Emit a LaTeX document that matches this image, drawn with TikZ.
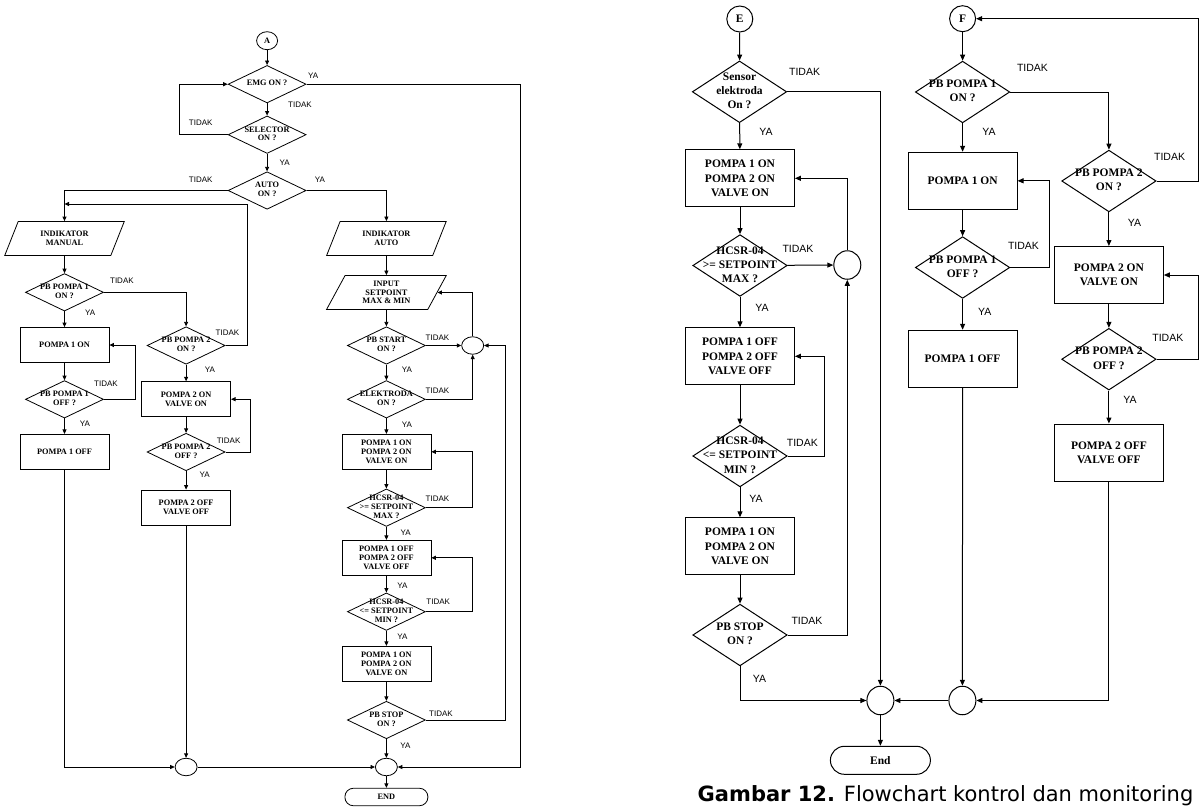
\documentclass[tikz,border=0pt]{standalone}
\usepackage{fontspec}
\setmainfont{Liberation Serif}
\newfontfamily\arialfont{Liberation Sans}
\newfontfamily\capfont{DejaVu Sans}
\usetikzlibrary{shapes.geometric, arrows.meta}
\newcommand{\lchfont}{\fontsize{8.3}{8.8}\selectfont\bfseries}
\newcommand{\rchfont}{\fontsize{11.5}{14.2}\selectfont\bfseries}
\newcommand{\dmtxt}[1]{\makebox[0pt]{\begin{tabular}{@{}c@{}}#1\end{tabular}}}

\begin{document}
\begin{tikzpicture}[x=1pt, y=-1pt,
    lbox/.style={rectangle, draw, line width=0.8pt, minimum width=89pt, minimum height=35pt, align=center, font=\lchfont, inner sep=1pt},
    ldia/.style={diamond, draw, line width=0.8pt, minimum width=78pt, minimum height=37.5pt, inner sep=0pt, font=\lchfont},
    lio/.style={trapezium, trapezium left angle=66, trapezium right angle=114, trapezium stretches=true, draw, line width=0.8pt, minimum width=120pt, minimum height=34pt, align=center, font=\lchfont, inner sep=1pt},
    lcon/.style={ellipse, draw, line width=0.8pt, minimum width=22pt, minimum height=17.5pt, inner sep=0pt, font=\lchfont},
    lend/.style={rectangle, rounded corners=8.5pt, draw, line width=0.8pt, minimum width=83pt, minimum height=17.5pt, inner sep=0pt, font=\lchfont},
    llab/.style={font=\arialfont\fontsize{8}{9}\selectfont, inner sep=0pt},
    larrow/.style={line width=0.8pt, -{Triangle[length=4.5pt, width=4pt]}},
    rbox/.style={rectangle, draw, line width=1pt, minimum width=108.8pt, minimum height=57pt, align=center, font=\rchfont, inner sep=1pt},
    rdia/.style={diamond, draw, line width=1pt, minimum width=94.4pt, minimum height=61.7pt, inner sep=0pt, font=\rchfont},
    rcon/.style={ellipse, draw, line width=1pt, minimum width=27pt, minimum height=28.5pt, inner sep=0pt, font=\rchfont},
    rend/.style={rectangle, rounded corners=14pt, draw, line width=1pt, minimum width=100pt, minimum height=28pt, inner sep=0pt, font=\rchfont},
    rlab/.style={font=\arialfont\fontsize{10.5}{12}\selectfont, inner sep=0pt},
    rarrow/.style={line width=1pt, -{Triangle[length=6pt, width=5pt]}}
]
\useasboundingbox (0,0) rectangle (1203,809);

% left chart
\node[lcon, minimum width=21pt, minimum height=18pt] (A) at (267.1,40.7) {A};
\node[ldia] (emg) at (267.1,84.2) {\dmtxt{EMG ON ?}};
\node[ldia] (sel) at (267.1,134.7) {\dmtxt{SELECTOR\\ON ?}};
\node[ldia] (auto) at (267.1,190.5) {\dmtxt{AUTO\\ON ?}};

\node[lio] (indm) at (64.5,238.5) {INDIKATOR\\MANUAL};
\node[ldia] (pb1on) at (64.5,292.3) {\dmtxt{PB POMPA 1\\ON ?}};
\node[lbox] (p1on) at (64.5,345) {POMPA 1 ON};
\node[ldia] (pb1off) at (64.5,399.3) {\dmtxt{PB POMPA 1\\OFF ?}};
\node[lbox] (p1off) at (64.5,451.8) {POMPA 1 OFF};

\node[ldia] (pb2on) at (186.1,345.5) {\dmtxt{PB POMPA 2\\ON ?}};
\node[lbox] (p2on) at (186.1,399.2) {POMPA 2 ON\\VALVE ON};
\node[ldia] (pb2off) at (186.1,452) {\dmtxt{PB POMPA 2\\OFF ?}};
\node[lbox] (p2off) at (186.1,507.5) {POMPA 2 OFF\\VALVE OFF};

\node[lio] (inda) at (386.4,238.5) {INDIKATOR\\AUTO};
\node[lio] (inp) at (386.4,292.5) {INPUT\\SETPOINT\\MAX \& MIN};
\node[ldia] (pbst) at (386.4,345.5) {\dmtxt{PB START\\ON ?}};
\node[ldia] (elek) at (386.4,399.3) {\dmtxt{ELEKTRODA\\ON ?}};
\node[lbox] (a1) at (386.4,451.8) {POMPA 1 ON\\POMPA 2 ON\\VALVE ON};
\node[ldia] (hmax) at (386.4,507.7) {\dmtxt{HCSR-04\\>= SETPOINT\\MAX ?}};
\node[lbox] (a2) at (386.4,557.8) {POMPA 1 OFF\\POMPA 2 OFF\\VALVE OFF};
\node[ldia] (hmin) at (386.4,611.7) {\dmtxt{HCSR-04\\<= SETPOINT\\MIN ?}};
\node[lbox] (a3) at (386.4,663.8) {POMPA 1 ON\\POMPA 2 ON\\VALVE ON};
\node[ldia] (pbsp) at (386.4,720) {\dmtxt{PB STOP\\ON ?}};
\node[lcon] (lc) at (472.7,345.5) {};
\node[lcon] (bl) at (186.1,767) {};
\node[lcon] (br) at (386.4,767) {};
\node[lend] (endL) at (386.4,797) {END};
\coordinate (rbus) at (520.7,767);
\coordinate (mj) at (64.5,204);

\draw[larrow] (A) -- (emg);
\draw[larrow] (emg.east) -| (rbus) -- (br.east);
\draw[larrow] (emg) -- (sel);
\draw[larrow] (sel.west) -- ++(-48.5,0) |- (emg.west);
\draw[larrow] (sel) -- (auto);
\draw[larrow] (auto.west) -| (indm.north);
\draw[larrow] (auto.east) -| (inda.north);
\draw[larrow] (indm) -- (pb1on);
\draw[larrow] (pb1on) -- (p1on);
\draw[larrow] (pb1on.east) -| (pb2on.north);
\draw[larrow] (p1on) -- (pb1off);
\draw[larrow] (pb1off.east) -- ++(31.1,0) |- (p1on.east);
\draw[larrow] (pb1off) -- (p1off);
\draw[larrow] (p1off.south) |- (bl.west);
\draw[larrow] (pb2on.east) -- ++(22,0) |- (mj);
\draw[larrow] (pb2on) -- (p2on);
\draw[larrow] (p2on) -- (pb2off);
\draw[larrow] (pb2off.east) -- ++(24.9,0) |- (p2on.east);
\draw[larrow] (pb2off) -- (p2off);
\draw[larrow] (p2off) -- (bl);
\draw[larrow] (bl) -- (br);
\draw[larrow] (br) -- (endL);
\draw[larrow] (inda) -- (inp);
\draw[larrow] (inp) -- (pbst);
\draw[larrow] (pbst) -- (lc);
\draw[larrow] (lc.north) |- (inp.east);
\draw[larrow] (pbst) -- (elek);
\draw[larrow] (elek.east) -| (lc.south);
\draw[larrow] (elek) -- (a1);
\draw[larrow] (a1) -- (hmax);
\draw[larrow] (hmax.east) -- (hmax.east -| lc) |- (a1.east);
\draw[larrow] (hmax) -- (a2);
\draw[larrow] (a2) -- (hmin);
\draw[larrow] (hmin.east) -- (hmin.east -| lc) |- (a2.east);
\draw[larrow] (hmin) -- (a3);
\draw[larrow] (a3) -- (pbsp);
\draw[larrow] (pbsp.east) -- ++(79.2,0) |- (lc.east);
\draw[larrow] (pbsp) -- (br);

\node[llab] (yEmg) at (313.2,75.3) {YA};
\node[llab] (tEmg) at (300,105) {TIDAK};
\node[llab] (tSel) at (200.7,123) {TIDAK};
\node[llab] (ySel) at (284.6,162.3) {YA};
\node[llab] (tAuto) at (200.7,179.3) {TIDAK};
\node[llab] (yAuto) at (320,179.3) {YA};
\node[llab] (tPb1on) at (121.9,280.3) {TIDAK};
\node[llab] (yPb1on) at (90.2,313.2) {YA};
\node[llab] (tPb1off) at (106,384) {TIDAK};
\node[llab] (yPb1off) at (85,423.3) {YA};
\node[llab] (tPb2on) at (227.5,332.3) {TIDAK};
\node[llab] (yPb2on) at (210,369.3) {YA};
\node[llab] (tPb2off) at (228.6,440.3) {TIDAK};
\node[llab] (yPb2off) at (204.6,475) {YA};
\node[llab] (tPbst) at (437.5,337.3) {TIDAK};
\node[llab] (yPbst) at (407,370) {YA};
\node[llab] (tElek) at (437.5,391) {TIDAK};
\node[llab] (yElek) at (407,424.3) {YA};
\node[llab] (tHmax) at (437.5,498.7) {TIDAK};
\node[llab] (yHmax) at (405.7,532.3) {YA};
\node[llab] (yA2) at (402.5,586) {YA};
\node[llab] (tHmin) at (438.2,602) {TIDAK};
\node[llab] (yHmin) at (402.5,636.7) {YA};
\node[llab] (tPbsp) at (441,713.3) {TIDAK};
\node[llab] (yPbsp) at (405.4,745.3) {YA};

% right charts
\node[rcon, minimum width=26pt, minimum height=26pt] (E) at (739.8,19) {E};
\node[rdia] (sens) at (739.5,91.8) {\dmtxt{Sensor\\elektroda\\On ?}};
\node[rbox] (e1) at (740,178.3) {POMPA 1 ON\\POMPA 2 ON\\VALVE ON};
\node[rdia] (hmx) at (740,265.5) {\dmtxt{HCSR-04\\>= SETPOINT\\MAX ?}};
\node[rcon] (mc) at (847.3,265) {};
\node[rbox] (e2) at (740,356.3) {POMPA 1 OFF\\POMPA 2 OFF\\VALVE OFF};
\node[rdia] (hmn) at (740,456) {\dmtxt{HCSR-04\\<= SETPOINT\\MIN ?}};
\node[rbox] (e3) at (740,546.3) {POMPA 1 ON\\POMPA 2 ON\\VALVE ON};
\node[rdia] (pbs) at (740,635) {\dmtxt{PB STOP\\ON ?}};
\node[rcon] (cl) at (880.4,700.5) {};
\node[rcon] (cr) at (962.4,700.5) {};
\node[rend] (endR) at (880.4,760.3) {End};

\node[rcon, minimum width=26pt, minimum height=26pt] (F) at (962.6,18.7) {F};
\node[rdia] (f1) at (962.6,92) {\dmtxt{PB POMPA 1\\ON ?}};
\node[rbox] (f2) at (962.6,180.8) {POMPA 1 ON};
\node[rdia] (f3) at (962.6,267.5) {\dmtxt{PB POMPA 1\\OFF ?}};
\node[rbox] (f4) at (962.6,358.8) {POMPA 1 OFF};

\node[rdia] (g1) at (1108.9,181) {\dmtxt{PB POMPA 2\\ON ?}};
\node[rbox] (g2) at (1108.9,275) {POMPA 2 ON\\VALVE ON};
\node[rdia] (g3) at (1108.9,359.2) {\dmtxt{PB POMPA 2\\OFF ?}};
\node[rbox] (g4) at (1108.9,452.5) {POMPA 2 OFF\\VALVE OFF};

\draw[rarrow] (E) -- (sens);
\draw[rarrow] (sens.east) -| (cl.north);
\draw[rarrow] (sens) -- (e1);
\draw[rarrow] (e1) -- (hmx);
\draw[rarrow] (hmx) -- (mc);
\draw[rarrow] (mc.north) |- (e1.east);
\draw[rarrow] (hmx) -- (e2);
\draw[rarrow] (e2) -- (hmn);
\draw[rarrow] (hmn.east) -- ++(37,0) |- (e2.east);
\draw[rarrow] (hmn) -- (e3);
\draw[rarrow] (e3) -- (pbs);
\draw[rarrow] (pbs.east) -| (mc.south);
\draw[rarrow] (pbs.south) |- (cl.west);
\draw[rarrow] (cr) -- (cl);
\draw[rarrow] (cl) -- (endR);
\draw[rarrow] (F) -- (f1);
\draw[rarrow] (f1.east) -| (g1.north);
\draw[rarrow] (f1) -- (f2);
\draw[rarrow] (f2) -- (f3);
\draw[rarrow] (f3.east) -- ++(39.5,0) |- (f2.east);
\draw[rarrow] (f3) -- (f4);
\draw[rarrow] (f4) -- (cr);
\draw[rarrow] (g1.east) -- ++(42.2,0) |- (F.east);
\draw[rarrow] (g1) -- (g2);
\draw[rarrow] (g2) -- (g3);
\draw[rarrow] (g3.east) -- ++(42.2,0) |- (g2.east);
\draw[rarrow] (g3) -- (g4);
\draw[rarrow] (g4.south) |- (cr.east);

\node[rlab] (tSens) at (804.6,71.7) {TIDAK};
\node[rlab] (ySens) at (766,132) {YA};
\node[rlab] (tHmx) at (798,249.3) {TIDAK};
\node[rlab] (yHmx) at (762.1,308.3) {YA};
\node[rlab] (tHmn) at (802.3,443.3) {TIDAK};
\node[rlab] (yHmn) at (756,499) {YA};
\node[rlab] (tPbs) at (807,621) {TIDAK};
\node[rlab] (yPbs) at (759.6,679.3) {YA};
\node[rlab] (tF1) at (1032.5,67.7) {TIDAK};
\node[rlab] (yF1) at (989,132.3) {YA};
\node[rlab] (tF3) at (1023.5,245.7) {TIDAK};
\node[rlab] (yF3) at (984.7,311.7) {YA};
\node[rlab] (tG1) at (1169.6,156.7) {TIDAK};
\node[rlab] (yG1) at (1134.4,222.7) {YA};
\node[rlab] (tG3) at (1167.8,337.7) {TIDAK};
\node[rlab] (yG3) at (1130,400) {YA};

\node[anchor=base west, inner sep=0pt, font=\capfont\fontsize{21}{24}\selectfont] (cap) at (697.5,801.5) {\textbf{Gambar 12.} Flowchart kontrol dan monitoring};

\end{tikzpicture}
\end{document}
